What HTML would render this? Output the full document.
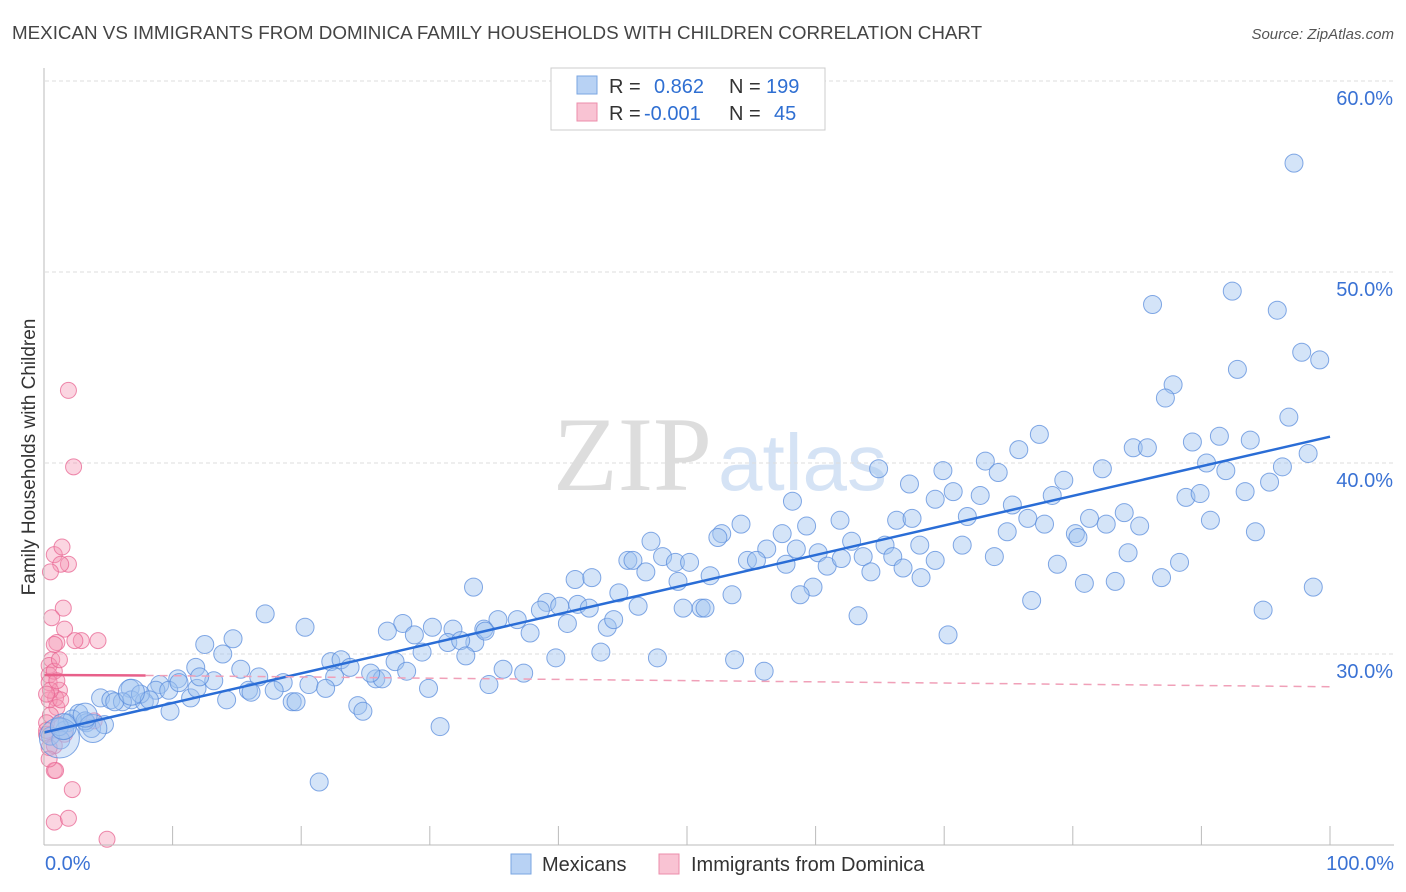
<!DOCTYPE html>
<html><head><meta charset="utf-8"><style>
body{margin:0;background:#fff;font-family:"Liberation Sans",sans-serif;}
svg{display:block}
</style></head><body>
<svg id="chart" width="1406" height="892">
<text x="12" y="39" font-size="18.8" fill="#444">MEXICAN VS IMMIGRANTS FROM DOMINICA FAMILY HOUSEHOLDS WITH CHILDREN CORRELATION CHART</text>
<text x="1394" y="39" font-size="15" fill="#555" font-style="italic" text-anchor="end">Source: ZipAtlas.com</text>
<text transform="translate(35,457) rotate(-90)" font-size="19" fill="#333" text-anchor="middle">Family Households with Children</text>
<g><text x="553" y="490" font-size="106" fill="#ddd" font-family="Liberation Serif,serif">ZIP</text><text x="718" y="490" font-size="80" fill="#d5e3f5">atlas</text></g>
<g id="grid"></g><g id="marks"></g><g id="lines"></g>
<line x1="44" y1="68" x2="44" y2="845" stroke="#bbb"/>
<line x1="44" y1="845" x2="1394" y2="845" stroke="#bbb"/>
<g id="xt"></g>
<g>
<rect x="551" y="68" width="274" height="62" fill="#fff" stroke="#ccc"/>
<rect x="577" y="76" width="20" height="18" fill="#b8d2f4" stroke="#7aa6e2"/>
<rect x="577" y="103" width="20" height="18" fill="#f9c3d3" stroke="#ec8eab"/>
<text x="609" y="93" font-size="20" fill="#333">R = <tspan fill="#2f6fd2" x="654">0.862</tspan><tspan fill="#333" x="729">N =</tspan><tspan fill="#2f6fd2" x="766">199</tspan></text>
<text x="609" y="120" font-size="20" fill="#333">R = <tspan fill="#2f6fd2" x="644">-0.001</tspan><tspan fill="#333" x="729">N =</tspan><tspan fill="#2f6fd2" x="774">45</tspan></text>
</g>
<g>
<rect x="511" y="854" width="20" height="20" fill="#b8d2f4" stroke="#7aa6e2"/>
<text x="542" y="871" font-size="20" fill="#333">Mexicans</text>
<rect x="659" y="854" width="20" height="20" fill="#f9c3d3" stroke="#ec8eab"/>
<text x="691" y="871" font-size="20" fill="#333">Immigrants from Dominica</text>
</g>
</svg>
<script>
const yTicks=[30,40,50,60];
const yTickLabels=["30.0%","40.0%","50.0%","60.0%"];
const xTickLabels=["0.0%","100.0%"];
const blueX=[97.2,86.2,92.4,95.9,97.8,99.2,92.8,87.8,87.2,96.8,77.4,84.7,85.8,89.3,91.4,93.8,75.8,98.3,73.2,90.4,91.9,96.3,64.9,69.9,82.3,74.2,79.3,67.3,93.4,95.3,70.7,72.8,88.8,89.9,58.2,69.3,78.4,75.3,84.0,66.3,67.5,71.8,76.5,90.7,52.7,54.2,59.3,61.9,77.8,81.3,82.6,85.2,94.2,80.2,47.2,52.4,57.4,56.2,58.5,62.8,65.4,71.4,74.9,84.3,80.4,45.4,45.8,48.1,49.1,50.2,54.7,55.4,60.2,60.9,62.0,63.7,66.0,68.1,69.3,73.9,78.8,88.3,86.9,83.3,80.9,46.8,49.3,51.8,57.7,64.3,66.8,68.2,41.3,42.6,33.4,59.8,58.8,53.5,44.7,39.1,41.5,38.6,40.1,42.4,46.2,49.7,51.1,51.4,76.8,94.8,98.7,35.3,36.8,40.7,43.8,44.3,27.9,26.7,28.8,30.2,31.8,34.2,37.8,31.4,33.5,32.4,34.3,63.3,70.3,17.2,20.3,12.5,14.7,13.9,43.3,39.8,47.7,29.4,32.8,22.3,23.1,27.3,23.8,25.8,26.3,28.2,11.8,10.4,13.2,15.3,16.7,18.6,20.6,22.6,25.4,35.7,37.3,53.7,56.0,9.0,6.7,8.7,11.4,14.2,15.9,16.1,17.9,19.3,19.6,21.9,29.9,34.6,24.4,24.8,9.8,4.4,5.2,6.8,7.8,7.5,6.1,30.8,21.4,2.7,3.3,3.7,1.8,1.6,0.5,1.3,2.2,3.2,4.7,5.5,8.2,9.7,10.5,11.9,12.1,1.2];
const blueY=[55.7,48.3,49.0,48.0,45.8,45.4,44.9,44.1,43.4,42.4,41.5,40.8,40.8,41.1,41.4,41.2,40.7,40.5,40.1,40.0,39.6,39.8,39.7,39.6,39.7,39.5,39.1,38.9,38.5,39.0,38.5,38.3,38.2,38.4,38.0,38.1,38.3,37.8,37.4,37.0,37.1,37.2,37.1,37.0,36.3,36.8,36.7,37.0,36.8,37.1,36.8,36.7,36.4,36.3,35.9,36.1,36.3,35.5,35.5,35.9,35.7,35.7,36.4,35.3,36.1,34.9,34.9,35.1,34.8,34.8,34.9,34.9,35.3,34.6,35.0,35.1,35.1,35.7,34.9,35.1,34.7,34.8,34.0,33.8,33.7,34.3,33.8,34.1,34.7,34.3,34.5,34.0,33.9,34.0,33.5,33.5,33.1,33.1,33.2,32.7,32.6,32.3,32.5,32.4,32.5,32.4,32.4,32.4,32.8,32.3,33.5,31.8,31.8,31.6,31.4,31.8,31.6,31.2,31.0,31.4,31.3,31.3,31.1,30.6,30.6,30.7,31.2,32.0,31.0,32.1,31.4,30.5,30.8,30.0,30.1,29.8,29.8,30.1,29.9,29.6,29.7,29.6,29.3,28.7,28.7,29.1,29.3,28.7,28.6,29.2,28.8,28.5,28.4,28.8,29.0,29.2,29.0,29.7,29.1,28.4,28.2,28.1,27.7,27.6,28.1,28.0,28.1,27.5,27.5,28.2,28.2,28.4,27.3,27.0,27.0,27.7,27.6,27.6,27.5,27.9,27.5,26.2,23.3,26.9,26.4,26.1,26.4,26.0,25.7,25.5,26.6,26.5,26.3,27.5,27.6,28.1,28.5,28.2,28.8,26.2];
const bigX=[1.2,3.8,6.8,3.2,1.5];
const bigY=[25.6,26.1,28.0,26.8,26.2];
const pinkX=[1.9,2.3,0.8,1.4,1.9,1.3,0.5,1.5,0.6,1.6,1.0,2.9,4.2,2.4,0.8,0.6,0.4,0.4,0.8,0.4,1.2,0.9,0.4,1.0,0.5,0.2,1.2,3.9,0.2,0.8,0.4,0.8,0.9,2.2,0.8,1.9,4.9,0.2,1.3,0.5,1.0,0.2,1.6,0.4,1.2];
const pinkY=[43.8,39.8,35.2,35.6,34.7,34.7,34.3,32.4,31.9,31.3,30.6,30.7,30.7,30.7,30.5,29.7,29.4,28.9,29.1,28.5,28.1,27.7,27.6,27.2,26.8,26.4,26.3,26.5,25.8,25.2,25.1,23.9,23.9,22.9,21.2,21.4,20.3,26.0,27.6,28.1,28.6,27.9,25.8,24.5,29.7];
const NS='http://www.w3.org/2000/svg';
const sx=v=>44+v*12.86, sy=v=>654-(v-30)*19.1;
function mk(tag,attrs,parent){const e=document.createElementNS(NS,tag);for(const k in attrs)e.setAttribute(k,attrs[k]);document.getElementById(parent).appendChild(e);return e;}
yTicks.forEach((t,i)=>{
 const g=mk('line',{x1:45,x2:1394,y1:sy(t),y2:sy(t),stroke:'#ddd','stroke-dasharray':'4,3'},'grid');
 
 
 const l=mk('text',{x:1393,y:sy(t)+24,'font-size':20,fill:'#3a72d4','text-anchor':'end'},'grid');
 l.textContent=yTickLabels[i];
 
 
});
for(let i=1;i<=10;i++){const t=mk('line',{x1:sx(i*10),x2:sx(i*10),y1:826,y2:845,stroke:'#bbb'},'xt');
 
 }
[[0,'start',45],[100,'end',1394]].forEach((d,i)=>{const l=mk('text',{x:d[2],y:870,'font-size':20,fill:'#3a72d4','text-anchor':d[1]},'xt');l.textContent=xTickLabels[i];
 
 });
pinkX.forEach((x,i)=>{const c=mk('circle',{cx:sx(x),cy:sy(pinkY[i]),r:8,fill:'rgba(244,150,180,0.4)',stroke:'rgba(232,100,145,0.75)','stroke-width':1},'marks');
 
 });
blueX.forEach((x,i)=>{const c=mk('circle',{cx:sx(x),cy:sy(blueY[i]),r:9,fill:'rgba(160,195,240,0.45)',stroke:'rgba(90,140,220,0.75)','stroke-width':1},'marks');
 
 });
bigX.forEach((x,i)=>{const c=mk('circle',{cx:sx(x),cy:sy(bigY[i]),r:[20,14,13,12,13][i],fill:'rgba(160,195,240,0.4)',stroke:'rgba(90,140,220,0.75)','stroke-width':1},'marks');
 
 });
function fit(X,Y){const n=X.length;let mx=0,my=0;X.forEach((x,i)=>{mx+=x;my+=Y[i]});mx/=n;my/=n;let sxy=0,sxx=0;X.forEach((x,i)=>{sxy+=(x-mx)*(Y[i]-my);sxx+=(x-mx)*(x-mx)});const b=sxy/sxx;return [my-b*mx,b];}
const bf=fit(blueX,blueY);
const bl=mk('line',{x1:sx(0),y1:sy(bf[0]),x2:sx(100),y2:sy(bf[0]+bf[1]*100),stroke:'#2a6dd6','stroke-width':2.5},'lines');


const pf=[28.9,-0.003];
const pxm=Math.max(...pinkX)+3;
const p1=mk('line',{x1:sx(0),y1:sy(pf[0]),x2:sx(pxm),y2:sy(pf[0]+pf[1]*pxm),stroke:'#e8608a','stroke-width':2.5},'lines');


const p2=mk('line',{x1:sx(pxm),y1:sy(pf[0]+pf[1]*pxm),x2:sx(100),y2:sy(pf[0]+pf[1]*100)+6,stroke:'#f0a0b8','stroke-width':1.5,'stroke-dasharray':'8,6'},'lines');


</script>
</body></html>
